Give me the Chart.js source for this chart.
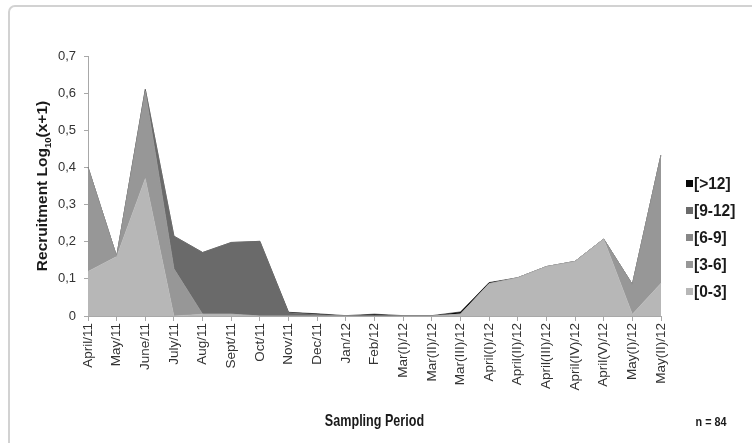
<!DOCTYPE html>
<html><head><meta charset="utf-8">
<script src="https://cdn.jsdelivr.net/npm/chart.js@4.4.1/dist/chart.umd.min.js"></script>
<style>html,body{margin:0;padding:0;background:#fff}canvas{display:block}</style>
</head><body>
<canvas id="c" width="752" height="443"></canvas>
<script>
const categories = ['April/11','May/11','June/11','July/11','Aug/11','Sept/11','Oct/11','Nov/11','Dec/11','Jan/12','Feb/12','Mar(I)/12','Mar(II)/12','Mar(III)/12','April(I)/12','April(II)/12','April(III)/12','April(IV)/12','April(V)/12','May(I)/12','May(II)/12'];
const seriesNames = ['[0-3]','[3-6]','[6-9]','[9-12]','[>12]'];
const s0to3  = [0.12,0.16,0.37,0,0.005,0.005,0,0,0,0,0,0,0,0.005,0.087,0.103,0.133,0.147,0.207,0.005,0.088];
const s3to6  = [0.28,0,0.235,0.127,0,0,0,0,0,0,0,0,0,0,0,0,0,0,0,0.08,0.345];
const s6to9  = [0,0,0,0,0,0,0,0,0,0,0,0,0,0,0,0,0,0,0,0,0];
const s9to12 = [0,0,0.005,0.088,0.166,0.193,0.201,0.009,0.004,0,0,0,0,0,0,0,0,0,0,0,0];
const sOver12= [0,0,0,0,0,0,0,0.001,0.002,0.001,0.005,0.001,0.001,0.006,0.003,0,0,0,0,0,0];
const yTickValues = [0,0.1,0.2,0.3,0.4,0.5,0.6,0.7];
const fillColors = ['#b7b7b7','#979797','#878787','#6a6a6a','#080808'];
const seriesData = [s0to3,s3to6,s6to9,s9to12,sOver12];

const FONT = 'Liberation Sans, Arial, sans-serif';

function scaledText(ctx, text, x, y, sx) {
  ctx.save();
  ctx.translate(x, y);
  ctx.scale(sx, 1);
  ctx.fillText(text, 0, 0);
  ctx.restore();
}

const decor = {
  id:'decor',
  beforeDraw(chart){
    const ctx = chart.ctx;
    ctx.save();
    ctx.strokeStyle = '#d2d2d2';
    ctx.lineWidth = 2;
    ctx.beginPath();
    ctx.roundRect(9,6,800,500,6);
    ctx.stroke();
    ctx.restore();
  },
  afterDraw(chart){
    const ctx = chart.ctx;
    const ca = chart.chartArea;
    ctx.save();
    // y title with subscript
    ctx.fillStyle = '#1a1a1a';
    ctx.translate(43, 186);
    ctx.rotate(-Math.PI/2);
    const big = 'bold 15.5px ' + FONT, small = 'bold 9.5px ' + FONT;
    const p1 = 'Recruitment Log', p2 = '10', p3 = '(x+1)';
    ctx.font = big; const w1 = ctx.measureText(p1).width, w3 = ctx.measureText(p3).width;
    ctx.font = small; const w2 = ctx.measureText(p2).width;
    let x = -(w1+w2+w3)/2;
    ctx.textBaseline = 'middle'; ctx.textAlign='left';
    ctx.font = big; ctx.fillText(p1, x, 0); x += w1;
    ctx.font = small; ctx.fillText(p2, x, 5); x += w2;
    ctx.font = big; ctx.fillText(p3, x, 0);
    ctx.restore();

    ctx.save();
    ctx.fillStyle = '#1a1a1a';
    ctx.textAlign = 'center'; ctx.textBaseline = 'middle';
    ctx.font = 'bold 17px ' + FONT;
    scaledText(ctx, 'Sampling Period', (ca.left+ca.right)/2, 421, 0.74);
    ctx.font = 'bold 12px ' + FONT;
    scaledText(ctx, 'n = 84', 711, 423, 0.9);
    // legend
    ctx.textAlign = 'left';
    ctx.font = 'bold 16px ' + FONT;
    for (let i = 0; i < seriesNames.length; i++) {
      const idx = seriesNames.length - 1 - i;
      const y = 184 + i*27;
      ctx.fillStyle = fillColors[idx];
      ctx.fillRect(686, y-4, 7, 7);
      ctx.fillStyle = '#1a1a1a';
      scaledText(ctx, seriesNames[idx], 694, y+1, 0.97);
    }
    ctx.restore();
  }
};

new Chart(document.getElementById('c'), {
  type:'line',
  data:{
    labels: categories,
    datasets: seriesNames.map((n,i)=>({
      label:n,
      data: seriesData[i],
      backgroundColor: fillColors[i],
      borderColor: fillColors[i],
      borderWidth: 0.6,
      pointRadius: 0,
      tension: 0,
      fill: i===0 ? 'origin' : '-1'
    }))
  },
  options:{
    responsive:false,
    animation:false,
    layout:{padding:{left:0,right:91,top:56,bottom:0}},
    plugins:{legend:{display:false},tooltip:{enabled:false}},
    scales:{
      x:{
        offset:false,
        grid:{drawOnChartArea:false, drawTicks:true, tickLength:5, color:'#a8a8a8'},
        border:{color:'#a8a8a8'},
        ticks:{minRotation:90,maxRotation:90,autoSkip:false,font:{family:FONT,size:13.5},color:'#333333',padding:2},
        afterFit(s){ s.height = 127; }
      },
      y:{
        stacked:true, min:0, max:0.7,
        afterBuildTicks(s){ s.ticks = yTickValues.map(v=>({value:v})); },
        grid:{drawOnChartArea:false, drawTicks:true, tickLength:4, color:'#a8a8a8'},
        border:{color:'#a8a8a8'},
        ticks:{font:{family:FONT,size:13},color:'#333333',padding:8,
          callback:(v)=> v===0 ? '0' : v.toFixed(1).replace('.',',')},
        afterFit(s){ s.width = 88; }
      }
    }
  },
  plugins:[decor]
});
</script>
</body></html>
